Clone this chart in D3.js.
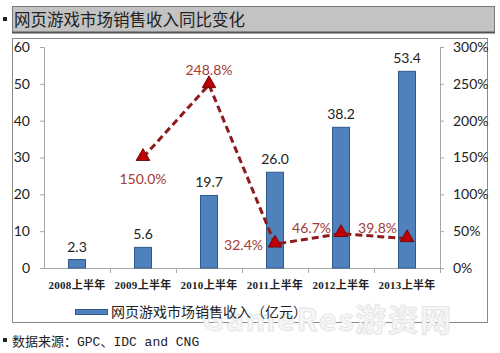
<!DOCTYPE html>
<html>
<head>
<meta charset="utf-8">
<script src="https://cdn.jsdelivr.net/npm/d3@7"></script>
<style>
  body { margin: 0; background: #fff; }
  svg { display: block; }
</style>
</head>
<body>
<div id="chart"></div>
<script>
// half-year labels and values
let periods = ["2008上半年", "2009上半年", "2010上半年", "2011上半年", "2012上半年", "2013上半年"];
let revenue = [2.3, 5.6, 19.7, 26.0, 38.2, 53.4];          // 亿元
let growth = [null, 150.0, 248.8, 32.4, 46.7, 39.8];        // %
let leftTicks = [0, 10, 20, 30, 40, 50, 60];
let rightTicks = [0, 50, 100, 150, 200, 250, 300];

let titleText = "网页游戏市场销售收入同比变化";
let legendText = "网页游戏市场销售收入（亿元）";
let sourceText = "数据来源：GPC、IDC and CNG";

// where each growth label sits relative to its marker
let growthLabelPos = [null, "below", "above", "left", "leftUp", "leftUp2"];

let width = 500, height = 353;
let plot = { left: 44, right: 440, top: 47, bottom: 268 };

let svg = d3.select("#chart").append("svg")
    .attr("width", width)
    .attr("height", height);

// ****** title bar ******
svg.append("rect")
    .attr("x", 3).attr("y", 17).attr("width", 4).attr("height", 4)
    .attr("fill", "#222");
svg.append("rect")
    .attr("x", 12.5).attr("y", 6.5).attr("width", 482).attr("height", 26)
    .attr("fill", "#c3c3c3")
    .attr("stroke", "#7a7a7a");
svg.append("line")
    .attr("x1", 12).attr("x2", 495).attr("y1", 32.5).attr("y2", 32.5)
    .attr("stroke", "#555").attr("stroke-width", 2);
svg.append("text")
    .attr("x", 14).attr("y", 26)
    .attr("font-family", "'Noto Sans CJK SC'")
    .attr("font-size", 16.5)
    .attr("fill", "#222")
    .text(titleText);

// ****** chart frame ******
svg.append("rect")
    .attr("x", 12.5).attr("y", 38.5).attr("width", 475).attr("height", 284)
    .attr("fill", "#fff")
    .attr("stroke", "#8a8a8a");

// watermark (faint, behind everything else)
svg.append("text")
    .attr("x", 202).attr("y", 331)
    .attr("font-family", "'Noto Sans CJK SC'")
    .attr("font-size", 31)
    .attr("font-weight", "bold")
    .attr("letter-spacing", 1.5)
    .attr("fill", "#f6f6f6")
    .attr("stroke", "#e6e6e6")
    .attr("stroke-width", 1)
    .text("GameRes游资网");

// ****** scales ******
let x = d3.scaleBand()
    .domain(periods)
    .range([plot.left, plot.right]);
let yL = d3.scaleLinear().domain([0, 60]).range([plot.bottom, plot.top]);
let yR = d3.scaleLinear().domain([0, 300]).range([plot.bottom, plot.top]);

let numFont = "Lato, 'Liberation Sans', sans-serif";

// ****** axes ******
let leftAxis = svg.append("g")
    .attr("transform", "translate(" + plot.left + ",0)")
    .call(d3.axisLeft(yL).tickValues(leftTicks).tickSize(4).tickPadding(10));
let rightAxis = svg.append("g")
    .attr("transform", "translate(" + plot.right + ",0)")
    .call(d3.axisRight(yR).tickValues(rightTicks).tickSize(4).tickPadding(9)
        .tickFormat(function (d) { return d + "%"; }));
[leftAxis, rightAxis].forEach(function (a) {
    a.select(".domain").attr("stroke", "#a6a6a6");
    a.selectAll(".tick line").attr("stroke", "#a6a6a6");
    a.selectAll(".tick text")
        .attr("font-family", numFont)
        .attr("font-size", 14)
        .attr("fill", "#222");
});

// x axis line + tick marks on category boundaries
let xAxis = svg.append("g");
xAxis.append("line")
    .attr("x1", plot.left).attr("x2", plot.right)
    .attr("y1", plot.bottom + 0.5).attr("y2", plot.bottom + 0.5)
    .attr("stroke", "#a6a6a6");
xAxis.selectAll(".xtick")
    .data(periods)
    .enter()
    .append("line")
    .attr("x1", function (d) { return x(d) + x.bandwidth() + 0.5; })
    .attr("x2", function (d) { return x(d) + x.bandwidth() + 0.5; })
    .attr("y1", plot.bottom)
    .attr("y2", plot.bottom + 5)
    .attr("stroke", "#a6a6a6");
xAxis.selectAll(".xlabel")
    .data(periods)
    .enter()
    .append("text")
    .attr("x", function (d) { return x(d) + x.bandwidth() / 2; })
    .attr("y", 289)
    .attr("text-anchor", "middle")
    .attr("font-family", "'Liberation Serif', 'Noto Sans CJK SC'")
    .attr("font-weight", "bold")
    .attr("font-size", 11)
    .attr("letter-spacing", 0.3)
    .attr("fill", "#222")
    .text(function (d) { return d; });

// ****** bars ******
let barW = 17;
let bars = svg.append("g").attr("id", "bars");
bars.selectAll("rect")
    .data(revenue)
    .enter()
    .append("rect")
    .attr("x", function (d, i) { return x(periods[i]) + x.bandwidth() / 2 - barW / 2; })
    .attr("y", function (d) { return yL(d); })
    .attr("width", barW)
    .attr("height", function (d) { return plot.bottom - yL(d); })
    .attr("fill", "#4f81bd")
    .attr("stroke", "#2f5a8c")
    .attr("stroke-width", 1);
bars.selectAll("text")
    .data(revenue)
    .enter()
    .append("text")
    .attr("x", function (d, i) { return x(periods[i]) + x.bandwidth() / 2; })
    .attr("y", function (d) { return yL(d) - 8; })
    .attr("text-anchor", "middle")
    .attr("font-family", numFont)
    .attr("font-size", 14)
    .attr("fill", "#222")
    .text(function (d) { return d.toFixed(1); });

// ****** growth line ******
let pts = growth.map(function (g, i) {
    return g == null ? null : { g: g, i: i, cx: x(periods[i]) + x.bandwidth() / 2, cy: yR(g) };
}).filter(function (p) { return p != null; });

svg.append("path")
    .datum(pts)
    .attr("d", d3.line().x(function (p) { return p.cx; }).y(function (p) { return p.cy; }))
    .attr("fill", "none")
    .attr("stroke", "#8e1b1b")
    .attr("stroke-width", 3)
    .attr("stroke-dasharray", "7,4");

let tri = d3.symbol().type(d3.symbolTriangle).size(80);
svg.append("g").selectAll("path")
    .data(pts)
    .enter()
    .append("path")
    .attr("d", tri)
    .attr("transform", function (p) { return "translate(" + p.cx + "," + (p.cy - 1) + ")"; })
    .attr("fill", "#c00000")
    .attr("stroke", "#6e0a0a")
    .attr("stroke-width", 1);

let labelOffset = {
    below: { dx: 0, dy: 26, anchor: "middle" },
    above: { dx: 0, dy: -10, anchor: "middle" },
    left: { dx: -12, dy: 6, anchor: "end" },
    leftUp: { dx: -10, dy: -1, anchor: "end" },
    leftUp2: { dx: -10, dy: -6, anchor: "end" }
};
svg.append("g").selectAll("text")
    .data(pts)
    .enter()
    .append("text")
    .attr("x", function (p) { return p.cx + labelOffset[growthLabelPos[p.i]].dx; })
    .attr("y", function (p) { return p.cy + labelOffset[growthLabelPos[p.i]].dy; })
    .attr("text-anchor", function (p) { return labelOffset[growthLabelPos[p.i]].anchor; })
    .attr("font-family", numFont)
    .attr("font-size", 14)
    .attr("fill", "#a33a36")
    .text(function (p) { return p.g.toFixed(1) + "%"; });

// ****** legend ******
svg.append("rect")
    .attr("x", 75.5).attr("y", 309.5).attr("width", 32).attr("height", 5)
    .attr("fill", "#4f81bd")
    .attr("stroke", "#2f5a8c");
svg.append("text")
    .attr("x", 111).attr("y", 317)
    .attr("font-family", "'Noto Sans CJK SC'")
    .attr("font-size", 14)
    .attr("fill", "#222")
    .text(legendText);

// ****** source note ******
svg.append("rect")
    .attr("x", 3).attr("y", 338).attr("width", 4).attr("height", 4)
    .attr("fill", "#222");
svg.append("text")
    .attr("x", 12).attr("y", 346)
    .attr("font-family", "'Liberation Mono', 'Noto Sans CJK SC'")
    .attr("font-size", 13)
    .attr("fill", "#222")
    .text(sourceText);
</script>
</body>
</html>
